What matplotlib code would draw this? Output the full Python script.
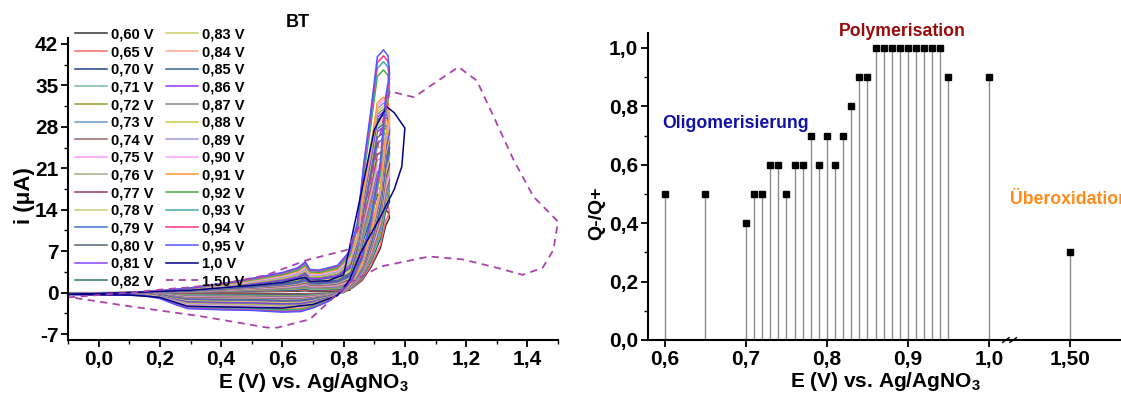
import numpy as np
import matplotlib
matplotlib.use("Agg")
import matplotlib.pyplot as plt
from matplotlib.ticker import MultipleLocator, FuncFormatter

plt.rcParams["font.family"] = ["Liberation Sans", "DejaVu Sans"]
plt.rcParams["font.weight"] = "bold"
plt.rcParams["mathtext.fontset"] = "custom"
plt.rcParams["mathtext.rm"] = "Liberation Sans:bold"
plt.rcParams["mathtext.default"] = "rm"
plt.rcParams["axes.unicode_minus"] = False

# ---- left panel: CVs of BT, one per polymerisation potential ----
cv_labels = ["0,60 V", "0,65 V", "0,70 V", "0,71 V", "0,72 V", "0,73 V", "0,74 V",
             "0,75 V", "0,76 V", "0,77 V", "0,78 V", "0,79 V", "0,80 V", "0,81 V",
             "0,82 V", "0,83 V", "0,84 V", "0,85 V", "0,86 V", "0,87 V", "0,88 V",
             "0,89 V", "0,90 V", "0,91 V", "0,92 V", "0,93 V", "0,94 V", "0,95 V"]
cv_colors = ["#333333", "#ff6666", "#224488", "#77bbaa", "#999922", "#6699cc", "#996666",
             "#ff99ff", "#aaaa88", "#993366", "#cccc77", "#4477cc", "#556677", "#8844ff",
             "#337766", "#cccc66", "#ffaa88", "#336699", "#9933ff", "#888888", "#cccc44",
             "#9999dd", "#ffaaff", "#ff9933", "#44aa44", "#44aaaa", "#ff3388", "#5555ff"]

# outer (0,95 V) loop, in three pieces
base_fwd_e = [-0.10, 0.00, 0.10, 0.20, 0.30, 0.40, 0.50, 0.60, 0.65, 0.675, 0.69, 0.72, 0.78, 0.82]
base_fwd_i = [-0.3, -0.2, 0.0, 0.3, 0.8, 1.5, 2.4, 3.4, 4.2, 5.2, 3.9, 3.8, 4.6, 7.0]
peak_e = [0.845, 0.866, 0.888, 0.91, 0.93, 0.945, 0.95, 0.937, 0.92, 0.89, 0.86, 0.83]
peak_i = [11.8, 21.9, 30.4, 39.8, 41.0, 40.0, 37.0, 33.0, 22.0, 12.8, 6.0, 2.5]
base_rev_e = [0.80, 0.75, 0.70, 0.66, 0.60, 0.50, 0.40, 0.29, 0.25, 0.20, 0.15, 0.05, -0.10]
base_rev_i = [0.5, -1.5, -2.6, -3.2, -3.3, -3.0, -2.9, -2.7, -2.0, -1.0, -0.5, -0.4, -0.3]

# per curve: anodic current at 0,6 V, cathodic current at 0,6 V, peak current
ox_level = [0.2, 0.3, 0.4, 0.5, 0.6, 0.7, 0.8, 0.9, 1.0, 1.1, 1.2, 1.3, 1.4, 1.5,
            1.6, 1.75, 1.9, 2.0, 2.15, 2.3, 2.45, 2.6, 2.75, 2.9, 3.05, 3.2, 3.3, 3.4]
red_level = [-0.2, -0.3, -0.4, -0.5, -0.6, -0.7, -0.8, -0.9, -1.0, -1.1, -1.2, -1.3, -1.4, -1.5,
             -1.6, -1.7, -1.8, -1.9, -2.0, -2.15, -2.3, -2.45, -2.6, -2.75, -2.9, -3.05, -3.2, -3.3]
peak_level = [14, 15, 17, 18, 19, 20, 21, 22, 23, 24, 25, 26, 27, 28,
              28.5, 29, 29.5, 30, 30.5, 31, 31.5, 32, 32.5, 33, 37.6, 39, 40, 41]

# 1,0 V scan
cv10_e = [-0.10, 0.10, 0.30, 0.50, 0.60, 0.675, 0.69, 0.75, 0.80, 0.855, 0.90, 0.94, 0.965, 1.00,
          0.99, 0.965, 0.92, 0.855, 0.82, 0.78, 0.70, 0.60, 0.40, 0.29, 0.20, 0.10, -0.10]
cv10_i = [-0.3, 0.0, 0.4, 1.2, 1.7, 2.6, 1.9, 2.0, 3.0, 16.2, 27.5, 31.4, 30.4, 27.8,
          21.3, 17.4, 12.8, 6.7, 2.2, -0.5, -2.0, -2.6, -2.4, -2.3, -0.8, -0.4, -0.3]

# 1,50 V scan (dashed)
cv15_e = [-0.10, 0.00, 0.10, 0.20, 0.30, 0.43, 0.55, 0.68, 0.81, 0.86, 0.90, 0.95, 1.03, 1.10,
          1.175, 1.235, 1.29, 1.355, 1.42, 1.50, 1.485, 1.45, 1.385, 1.30, 1.19, 1.08, 0.92,
          0.82, 0.69, 0.585, 0.55, 0.335, 0.10, -0.09]
cv15_i = [-0.8, -0.4, 0.0, 0.5, 0.9, 1.7, 3.0, 5.5, 7.2, 12.0, 22.0, 34.0, 33.0, 35.5,
          38.1, 35.8, 29.7, 22.4, 16.2, 12.0, 7.2, 4.2, 3.0, 4.2, 5.6, 6.1, 4.4,
          1.7, -4.5, -5.9, -5.9, -4.0, -2.3, -0.8]

# ---- right panel: charge ratio ----
ratio_e = [0.60, 0.65, 0.70, 0.71, 0.72, 0.73, 0.74, 0.75, 0.76, 0.77, 0.78, 0.79, 0.80,
           0.81, 0.82, 0.83, 0.84, 0.85, 0.86, 0.87, 0.88, 0.89, 0.90, 0.91, 0.92, 0.93,
           0.94, 0.95, 1.00, 1.50]
ratio_q = [0.5, 0.5, 0.4, 0.5, 0.5, 0.6, 0.6, 0.5, 0.6, 0.6, 0.7, 0.6, 0.7,
           0.6, 0.7, 0.8, 0.9, 0.9, 1.0, 1.0, 1.0, 1.0, 1.0, 1.0, 1.0, 1.0,
           1.0, 0.9, 0.9, 0.3]

comma = FuncFormatter(lambda v, p: f"{v:.1f}".replace(".", ","))

fig = plt.figure(figsize=(11.21, 3.94), dpi=100)

# left axes
ax = fig.add_axes([68 / 1121, 54 / 394, 490 / 1121, 302 / 394])
for k in range(len(cv_labels)):
    so = ox_level[k] / 3.4
    sr = red_level[k] / -3.3
    sp = peak_level[k] / 41.0
    e = base_fwd_e + peak_e + base_rev_e
    i = ([v * so for v in base_fwd_i] + [v * sp for v in peak_i]
         + [v * sr for v in base_rev_i])
    ax.plot(e, i, color=cv_colors[k], lw=1.1, label=cv_labels[k])
ax.plot(cv10_e, cv10_i, color="#000088", lw=1.1, label="1,0 V")
ax.plot(cv15_e, cv15_i, color="#aa44aa", lw=1.3, ls=(0, (4, 3)), label="1,50 V")

ax.set_xlim(-0.1, 1.5)
ax.set_ylim(-8, 43)
ax.xaxis.set_major_locator(MultipleLocator(0.2))
ax.xaxis.set_minor_locator(MultipleLocator(0.1))
ax.yaxis.set_major_locator(MultipleLocator(7))
ax.yaxis.set_minor_locator(MultipleLocator(3.5))
ax.xaxis.set_major_formatter(comma)
ax.set_xlabel("E (V) vs. Ag/AgNO$_3$", fontsize=15, fontweight="bold", labelpad=2)
ax.set_ylabel("i (\u03bcA)", fontsize=16, fontweight="bold")
ax.yaxis.set_label_coords(-0.068, 0.477)
ax.set_title("BT", fontsize=13, fontweight="bold", x=0.47, pad=8)
ax.legend(ncol=2, loc="upper left", bbox_to_anchor=(0.014, 1.035), frameon=False,
          fontsize=10.5, handlelength=2.2, handletextpad=0.3, labelspacing=0.25,
          columnspacing=0.8, borderpad=0, borderaxespad=0)

# right axes, broken after 1,0 V
ax2 = fig.add_axes([648 / 1121, 54 / 394, 502 / 1121, 306.6 / 394])
pos = [e if e <= 1.0 else e - 0.4 for e in ratio_e]
ax2.vlines(pos, 0, ratio_q, color="#8c8c8c", lw=1.0)
ax2.plot(pos, ratio_q, "s", color="black", ms=5, clip_on=False, zorder=3)
ax2.set_xlim(0.579, 1.199)
ax2.set_ylim(0, 1.05)
ax2.set_xticks([0.6, 0.7, 0.8, 0.9, 1.0, 1.1])
ax2.set_xticklabels(["0,6", "0,7", "0,8", "0,9", "1,0", "1,50"])
ax2.yaxis.set_major_locator(MultipleLocator(0.2))
ax2.yaxis.set_minor_locator(MultipleLocator(0.1))
ax2.yaxis.set_major_formatter(comma)
ax2.set_xlabel("E (V) vs. Ag/AgNO$_3$", fontsize=15, fontweight="bold")
ax2.xaxis.set_label_coords(0.472, -0.098)
ax2.set_ylabel("Q-/Q+", fontsize=14, fontweight="bold")
ax2.yaxis.set_label_coords(-0.086, 0.414)
for xb in (1.021, 1.030):
    ax2.plot([xb - 0.004, xb + 0.004], [-0.008, 0.008], color="black", lw=1, clip_on=False)

ax2.text(0.8926, 1.055, "Polymerisation", color="#990a0a", fontsize=12.7, fontweight="bold",
         ha="center", va="center")
ax2.text(0.596, 0.74, "Oligomerisierung", color="#1111aa", fontsize=12.7, fontweight="bold",
         ha="left", va="center")
ax2.text(1.026, 0.48, "\u00dcberoxidation", color="#ff8c1a", fontsize=12.7, fontweight="bold",
         ha="left", va="center")

for a in (ax, ax2):
    a.spines["top"].set_visible(False)
    a.spines["right"].set_visible(False)
    for s in ("left", "bottom"):
        a.spines[s].set_linewidth(1.5)
    a.tick_params(which="major", direction="out", length=5, width=1.3, labelsize=15, pad=2)
    a.tick_params(which="minor", direction="out", length=3, width=1.0)
    for lab in a.get_xticklabels() + a.get_yticklabels():
        lab.set_fontweight("bold")

fig.savefig("out.png", dpi=100)
